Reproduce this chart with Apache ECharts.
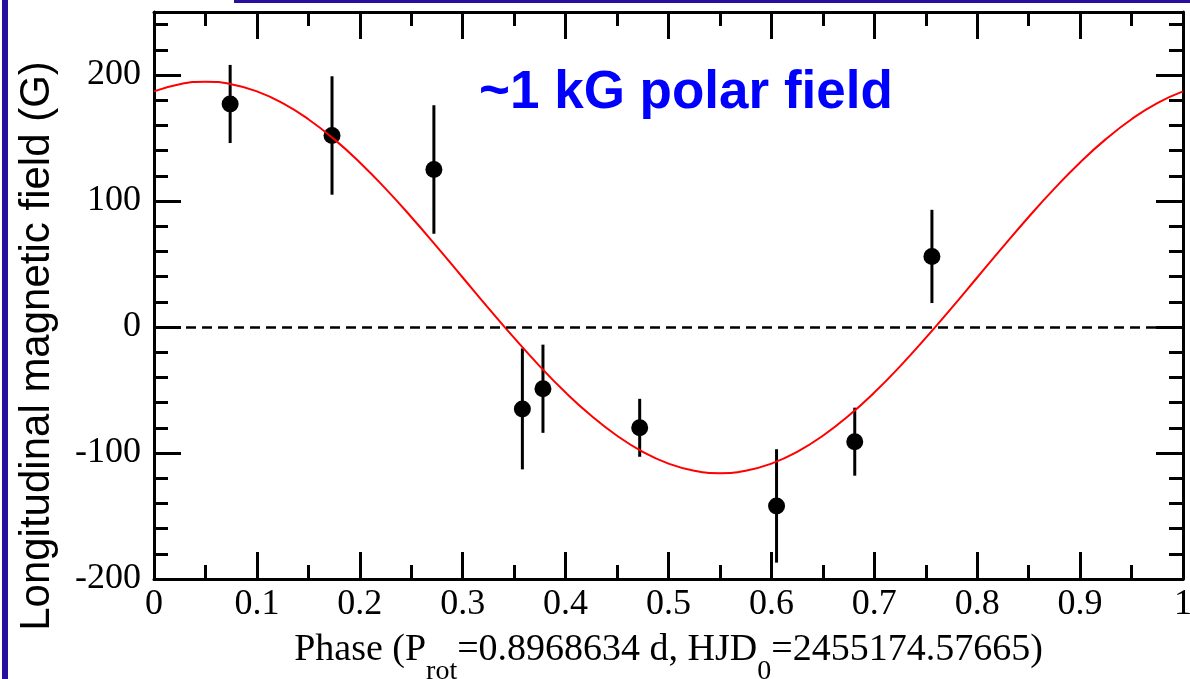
<!DOCTYPE html>
<html>
<head>
<meta charset="utf-8">
<script src="https://cdn.jsdelivr.net/npm/echarts@6/dist/echarts.min.js"></script>
<style>
  html, body { margin: 0; padding: 0; background: #fff; }
  #chart { width: 1190px; height: 679px; }
</style>
</head>
<body>
<div id="chart"></div>
<script>
// measured points: rotational phase, longitudinal field (G), 1-sigma error (G)
const phase = [0.074, 0.173, 0.272, 0.358, 0.378, 0.472, 0.605, 0.681, 0.756];
const field = [177, 152, 125, -65, -49, -80, -142, -91, 56];
const fieldErr = [31, 47, 51, 48, 35, 23, 45, 27, 37];

// red fit curve, every 0.025 in phase
const fitPhase = [0, 0.025, 0.05, 0.075, 0.1, 0.125, 0.15, 0.175, 0.2, 0.225, 0.25,
    0.275, 0.3, 0.325, 0.35, 0.375, 0.4, 0.425, 0.45, 0.475, 0.5,
    0.525, 0.55, 0.575, 0.6, 0.625, 0.65, 0.675, 0.7, 0.725, 0.75,
    0.775, 0.8, 0.825, 0.85, 0.875, 0.9, 0.925, 0.95, 0.975, 1];
const fitField = [187, 192.7, 194.6, 192.7, 187, 177.7, 164.9, 149.1, 130.6, 109.8, 87.3,
    63.6, 39.3, 15, -8.7, -31.2, -52, -70.5, -86.3, -99.1, -108.4,
    -114.1, -116, -114.1, -108.4, -99.1, -86.3, -70.5, -52, -31.2, -8.7,
    15, 39.3, 63.6, 87.3, 109.8, 130.6, 149.1, 164.9, 177.7, 187];

const xTicks = { min: 0, max: 1, interval: 0.1 };
const yTicks = { min: -200, max: 250, major: 100, minor: 20 };

const serif = '"Liberation Serif", "DejaVu Serif", serif';
const sans = '"Liberation Sans", Arial, sans-serif';
const black = '#000';

var chart = echarts.init(document.getElementById('chart'));

function xAxisDef(pos) {
    return {
        type: 'value',
        position: pos,
        min: xTicks.min,
        max: xTicks.max,
        interval: xTicks.interval,
        axisLine: { show: true, onZero: false, lineStyle: { color: black, width: 3 } },
        axisTick: { show: true, inside: true, length: 27, lineStyle: { color: black, width: 3 } },
        minorTick: { show: true, splitNumber: 2, length: 14, lineStyle: { color: black, width: 3 } },
        splitLine: { show: false },
        minorSplitLine: { show: false },
        axisLabel: {
            show: pos === 'bottom',
            margin: 8,
            color: black,
            fontFamily: serif,
            fontSize: 36
        }
    };
}

function yAxisDef(pos, step, tickLen, labels) {
    return {
        type: 'value',
        position: pos,
        min: yTicks.min,
        max: yTicks.max,
        interval: step,
        axisLine: { show: labels !== null, onZero: false, lineStyle: { color: black, width: 3 } },
        axisTick: { show: true, inside: true, length: tickLen, lineStyle: { color: black, width: 3 } },
        splitLine: { show: false },
        axisLabel: {
            show: labels === true,
            margin: 13,
            color: black,
            fontFamily: serif,
            fontSize: 36,
            showMaxLabel: false
        }
    };
}

const xName = '{m|Phase (P}{s|rot}{m|=0.8968634 d, HJD}{s|0}{m|=2455174.57665)}';

let xAxes = [xAxisDef('bottom'), xAxisDef('top')];
xAxes[0].name = xName;
xAxes[0].nameLocation = 'middle';
xAxes[0].nameGap = 52;
xAxes[0].nameTextStyle = {
    color: black,
    fontFamily: serif,
    rich: {
        m: { fontFamily: serif, fontSize: 38, lineHeight: 44, color: black, verticalAlign: 'top' },
        s: { fontFamily: serif, fontSize: 28, lineHeight: 28, color: black, verticalAlign: 'top', padding: [27, 0, 0, 0] }
    }
};

let yAxes = [
    yAxisDef('left', yTicks.major, 27, true),
    yAxisDef('left', yTicks.minor, 14, null),
    yAxisDef('right', yTicks.major, 27, false),
    yAxisDef('right', yTicks.minor, 14, null)
];

let errData = phase.map(function (p, i) {
    return [p, field[i], fieldErr[i]];
});

chart.setOption({
    animation: false,
    backgroundColor: '#fff',
    grid: { left: 154, top: 12, width: 1029, height: 567, containLabel: false, outerBoundsMode: 'none' },
    xAxis: xAxes,
    yAxis: yAxes,
    graphic: [
        { type: 'rect', shape: { x: 2, y: 0, width: 6, height: 679 }, style: { fill: '#2a0e9c' } },
        { type: 'rect', shape: { x: 234, y: 0, width: 956, height: 3 }, style: { fill: '#2a0e9c' } },
        {
            type: 'text', x: 37, y: 346, rotation: Math.PI / 2,
            style: {
                text: 'Longitudinal magnetic field (G)', fill: black,
                font: '42px ' + sans, align: 'center', verticalAlign: 'middle'
            }
        },
        {
            type: 'text', x: 479, y: 93,
            style: {
                text: '~1 kG polar field', fill: '#0000ff',
                font: 'bold 53px ' + sans, align: 'left', verticalAlign: 'middle'
            }
        }
    ],
    series: [
        {
            type: 'custom',
            xAxisIndex: 0,
            yAxisIndex: 0,
            data: errData,
            renderItem: function (params, api) {
                var x = api.value(0), y = api.value(1), e = api.value(2);
                var hi = api.coord([x, y + e]);
                var lo = api.coord([x, y - e]);
                return {
                    type: 'line',
                    shape: { x1: hi[0], y1: hi[1], x2: lo[0], y2: lo[1] },
                    style: { stroke: black, lineWidth: 3 }
                };
            },
            markLine: {
                silent: true,
                symbol: 'none',
                label: { show: false },
                lineStyle: { color: black, width: 2.5, type: [10, 6] },
                data: [{ yAxis: 0 }]
            }
        },
        {
            type: 'scatter',
            xAxisIndex: 0,
            yAxisIndex: 0,
            symbol: 'circle',
            symbolSize: 17,
            itemStyle: { color: black, opacity: 1 },
            data: phase.map(function (p, i) { return [p, field[i]]; })
        },
        {
            type: 'line',
            xAxisIndex: 0,
            yAxisIndex: 0,
            smooth: true,
            showSymbol: false,
            symbol: 'none',
            lineStyle: { color: '#ff0000', width: 2 },
            data: fitPhase.map(function (p, i) { return [p, fitField[i]]; })
        }
    ]
});
</script>
</body>
</html>
